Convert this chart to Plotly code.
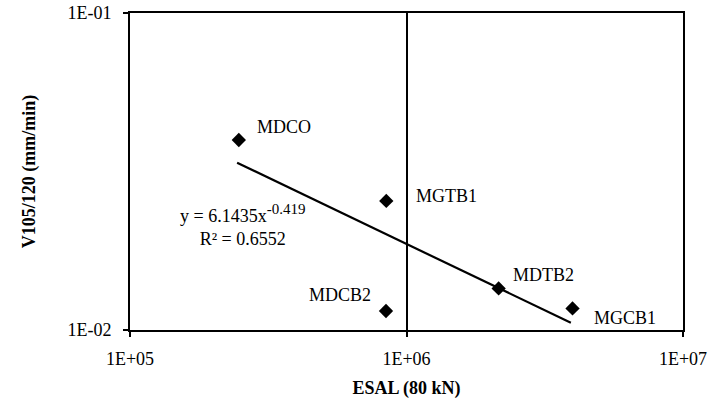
import math
import plotly.graph_objects as go

# Data
names = ["MDCO", "MGTB1", "MDCB2", "MDTB2", "MGCB1"]
esal = [2.475e5, 8.45e5, 8.43e5, 2.154e6, 3.985e6]
v105 = [0.03975, 0.02553, 0.01148, 0.01353, 0.0117]

trend_x = [2.44e5, 3.93e6]
trend_y = [0.0337, 0.01054]

x_tickvals = [1e5, 1e6, 1e7]
x_ticktext = ["1E+05", "1E+06", "1E+07"]
y_tickvals = [1e-2, 1e-1]
y_ticktext = ["1E-02", "1E-01"]

eq_text = ("y = 6.1435x<sup><span style='font-size:15px'>-0.419</span></sup>"
           "<br>R² = 0.6552")
eq_x, eq_y = 2.55e5, 0.0214

label_shift = {"MDCO": (45, 13), "MGTB1": (60, 5), "MDCB2": (-46, 16),
               "MDTB2": (45, 13), "MGCB1": (52, -10)}

FONT = "Liberation Serif"

fig = go.Figure()
fig.add_trace(go.Scatter(x=trend_x, y=trend_y, mode="lines",
                         line=dict(color="black", width=2.2), showlegend=False))
fig.add_trace(go.Scatter(x=esal, y=v105, mode="markers",
                         marker=dict(symbol="diamond", size=11, color="black"),
                         showlegend=False))

for n, xv, yv in zip(names, esal, v105):
    dx, dy = label_shift[n]
    fig.add_annotation(x=math.log10(xv), y=math.log10(yv), xref="x", yref="y",
                       text=n, showarrow=False, xshift=dx, yshift=dy,
                       font=dict(family=FONT, size=18, color="black"))

fig.add_annotation(x=math.log10(eq_x), y=math.log10(eq_y), xref="x", yref="y",
                   text=eq_text, showarrow=False, align="center",
                   font=dict(family=FONT, size=18, color="black"))

fig.update_layout(
    width=710, height=406,
    margin=dict(l=130, r=27, t=13, b=76, autoexpand=False),
    paper_bgcolor="white", plot_bgcolor="white",
    font=dict(family=FONT, size=18, color="black"),
)
fig.update_xaxes(type="log", range=[5, 7], tickvals=x_tickvals, ticktext=x_ticktext,
                 automargin=False,
                 showline=True, linecolor="black", linewidth=2, mirror=True,
                 ticks="outside", ticklen=5, tickcolor="black", tickwidth=1.5,
                 ticklabelstandoff=6,
                 showgrid=True, gridcolor="black", gridwidth=1.5, zeroline=False,
                 title=dict(text="<b>ESAL (80 kN)</b>", font=dict(family=FONT, size=18),
                            standoff=14))
fig.update_yaxes(type="log", range=[-2, -1], tickvals=y_tickvals, ticktext=y_ticktext,
                 automargin=False,
                 showline=True, linecolor="black", linewidth=2, mirror=True,
                 ticks="outside", ticklen=5, tickcolor="black", tickwidth=1.5,
                 ticklabelstandoff=8,
                 showgrid=False, zeroline=False,
                 title=dict(text="<b>V105/120 (mm/min)</b>", font=dict(family=FONT, size=18),
                            standoff=27))

fig.write_html("out.html")
